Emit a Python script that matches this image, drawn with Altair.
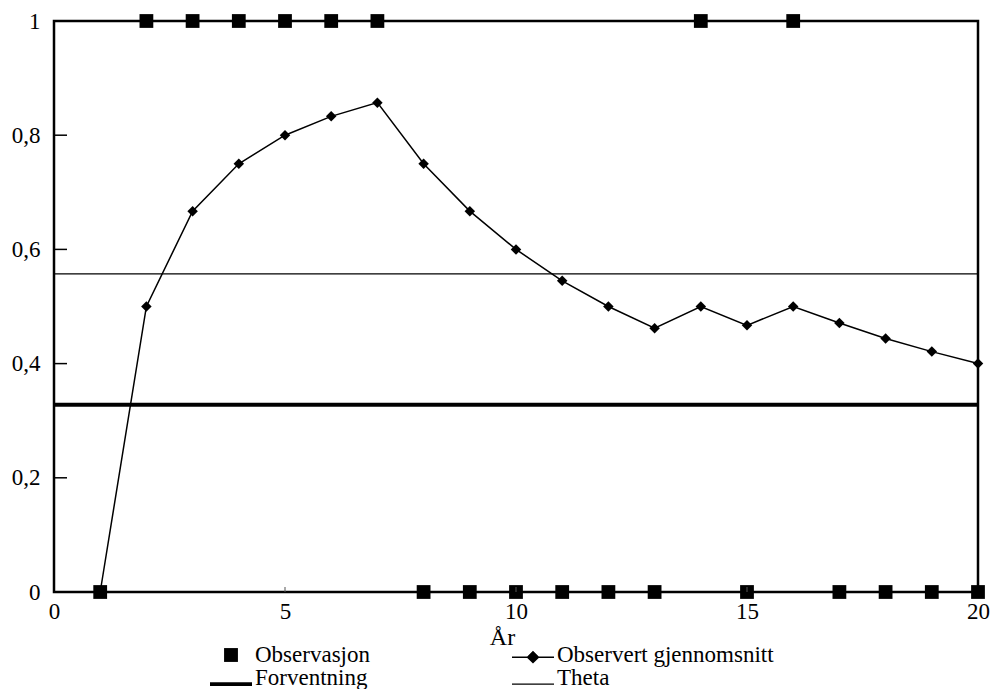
import altair as alt
import pandas as pd

years = list(range(1, 21))
observations = [0, 1, 1, 1, 1, 1, 1, 0, 0, 0, 0, 0, 0, 1, 0, 1, 0, 0, 0, 0]
observed_mean = [0.0, 0.5, 0.667, 0.75, 0.8, 0.833, 0.857, 0.75, 0.667, 0.6,
                 0.545, 0.5, 0.462, 0.5, 0.467, 0.5, 0.471, 0.444, 0.421, 0.4]
forventning = 0.328
theta = 0.557
x_ticks = [0, 5, 10, 15, 20]
y_ticks = [0, 0.2, 0.4, 0.6, 0.8, 1]
y_inner_ticks = [0.2, 0.4, 0.6, 0.8]
x_inner_ticks = [5, 10, 15]
# legend laid out column by column: (Observasjon, Forventning) | (Observert gjennomsnitt, Theta)
series = ["Observasjon", "Forventning", "Observert gjennomsnitt", "Theta"]
legend_paths = [
    "M-0.33,-0.33H0.33V0.33H-0.33Z",
    "M-1,0.2H1V0.38H-1Z",
    "M-1,0.07H1V0.14H-1Z M0,-0.2L0.31,0.105L0,0.41L-0.31,0.105Z",
    "M-1,0.26H1V0.32H-1Z",
]

FONT = "Liberation Serif"

obs_df = pd.DataFrame({"x": years, "y": observations})
mean_df = pd.DataFrame({"x": years, "y": observed_mean})
forv_df = pd.DataFrame({"y": [forventning]})
theta_df = pd.DataFrame({"y": [theta]})
ytick_df = pd.DataFrame({"y": y_inner_ticks})
xtick_df = pd.DataFrame({"x": x_inner_ticks})
legend_df = pd.DataFrame({"series": series})

xscale = alt.Scale(domain=[0, 20], nice=False, zero=False)
yscale = alt.Scale(domain=[0, 1], nice=False)

xaxis = alt.Axis(values=x_ticks, title="År", ticks=False, domain=False, grid=False,
                 labelFont=FONT, labelFontSize=23, labelPadding=8, labelFlush=False,
                 titleFont=FONT, titleFontSize=24, titleFontWeight="normal",
                 titlePadding=2, titleX=448, titleAlign="center")
yaxis = alt.Axis(values=y_ticks, title=None, ticks=False, domain=False, grid=False,
                 labelFont=FONT, labelFontSize=23, labelPadding=14,
                 labelExpr="replace(format(datum.value, '~g'), '.', ',')")

X = alt.X("x:Q", scale=xscale, axis=xaxis)
Y = alt.Y("y:Q", scale=yscale, axis=yaxis)

forv = alt.Chart(forv_df).mark_rule(color="black", strokeWidth=4).encode(y=Y)
th = alt.Chart(theta_df).mark_rule(color="black", strokeWidth=1.3).encode(y=Y)
mean_line = alt.Chart(mean_df).mark_line(color="black", strokeWidth=1.5).encode(x=X, y=Y)
mean_pts = alt.Chart(mean_df).mark_point(shape="diamond", filled=True, color="black",
                                         size=110, opacity=1).encode(x=X, y=Y)
obs = alt.Chart(obs_df).mark_square(color="black", size=190, opacity=1).encode(x=X, y=Y)
yt = alt.Chart(ytick_df).mark_rule(color="black", strokeWidth=1.5).encode(
    y=Y, x=alt.value(0), x2=alt.value(13))
xt = alt.Chart(xtick_df).mark_rule(color="#555", strokeWidth=1).encode(
    x=X, y=alt.value(571), y2=alt.value(566))

leg = alt.Chart(legend_df).mark_point(filled=True, color="black", opacity=0).encode(
    x=alt.value(0), y=alt.value(0),
    shape=alt.Shape("series:N", scale=alt.Scale(domain=series, range=legend_paths),
                    legend=alt.Legend(title=None, orient="none", legendX=156, legendY=623,
                                      columns=2, columnPadding=142, rowPadding=0,
                                      symbolSize=1764, clipHeight=22, labelLimit=400,
                                      labelFont=FONT, labelFontSize=23, labelOffset=3,
                                      symbolFillColor="black", symbolStrokeWidth=0,
                                      symbolOpacity=1, labelColor="black")))

chart = alt.layer(th, forv, mean_line, mean_pts, obs, yt, xt, leg).properties(
    width=924, height=571,
    autosize=alt.AutoSizeParams(type="none"),
    padding={"left": 46, "top": 13, "right": 13, "bottom": 97},
).configure_view(stroke="black", strokeWidth=2.5).configure_axis(
    labelColor="black", titleColor="black")

chart.save("out.html", embed_options={"renderer": "svg", "actions": False})
